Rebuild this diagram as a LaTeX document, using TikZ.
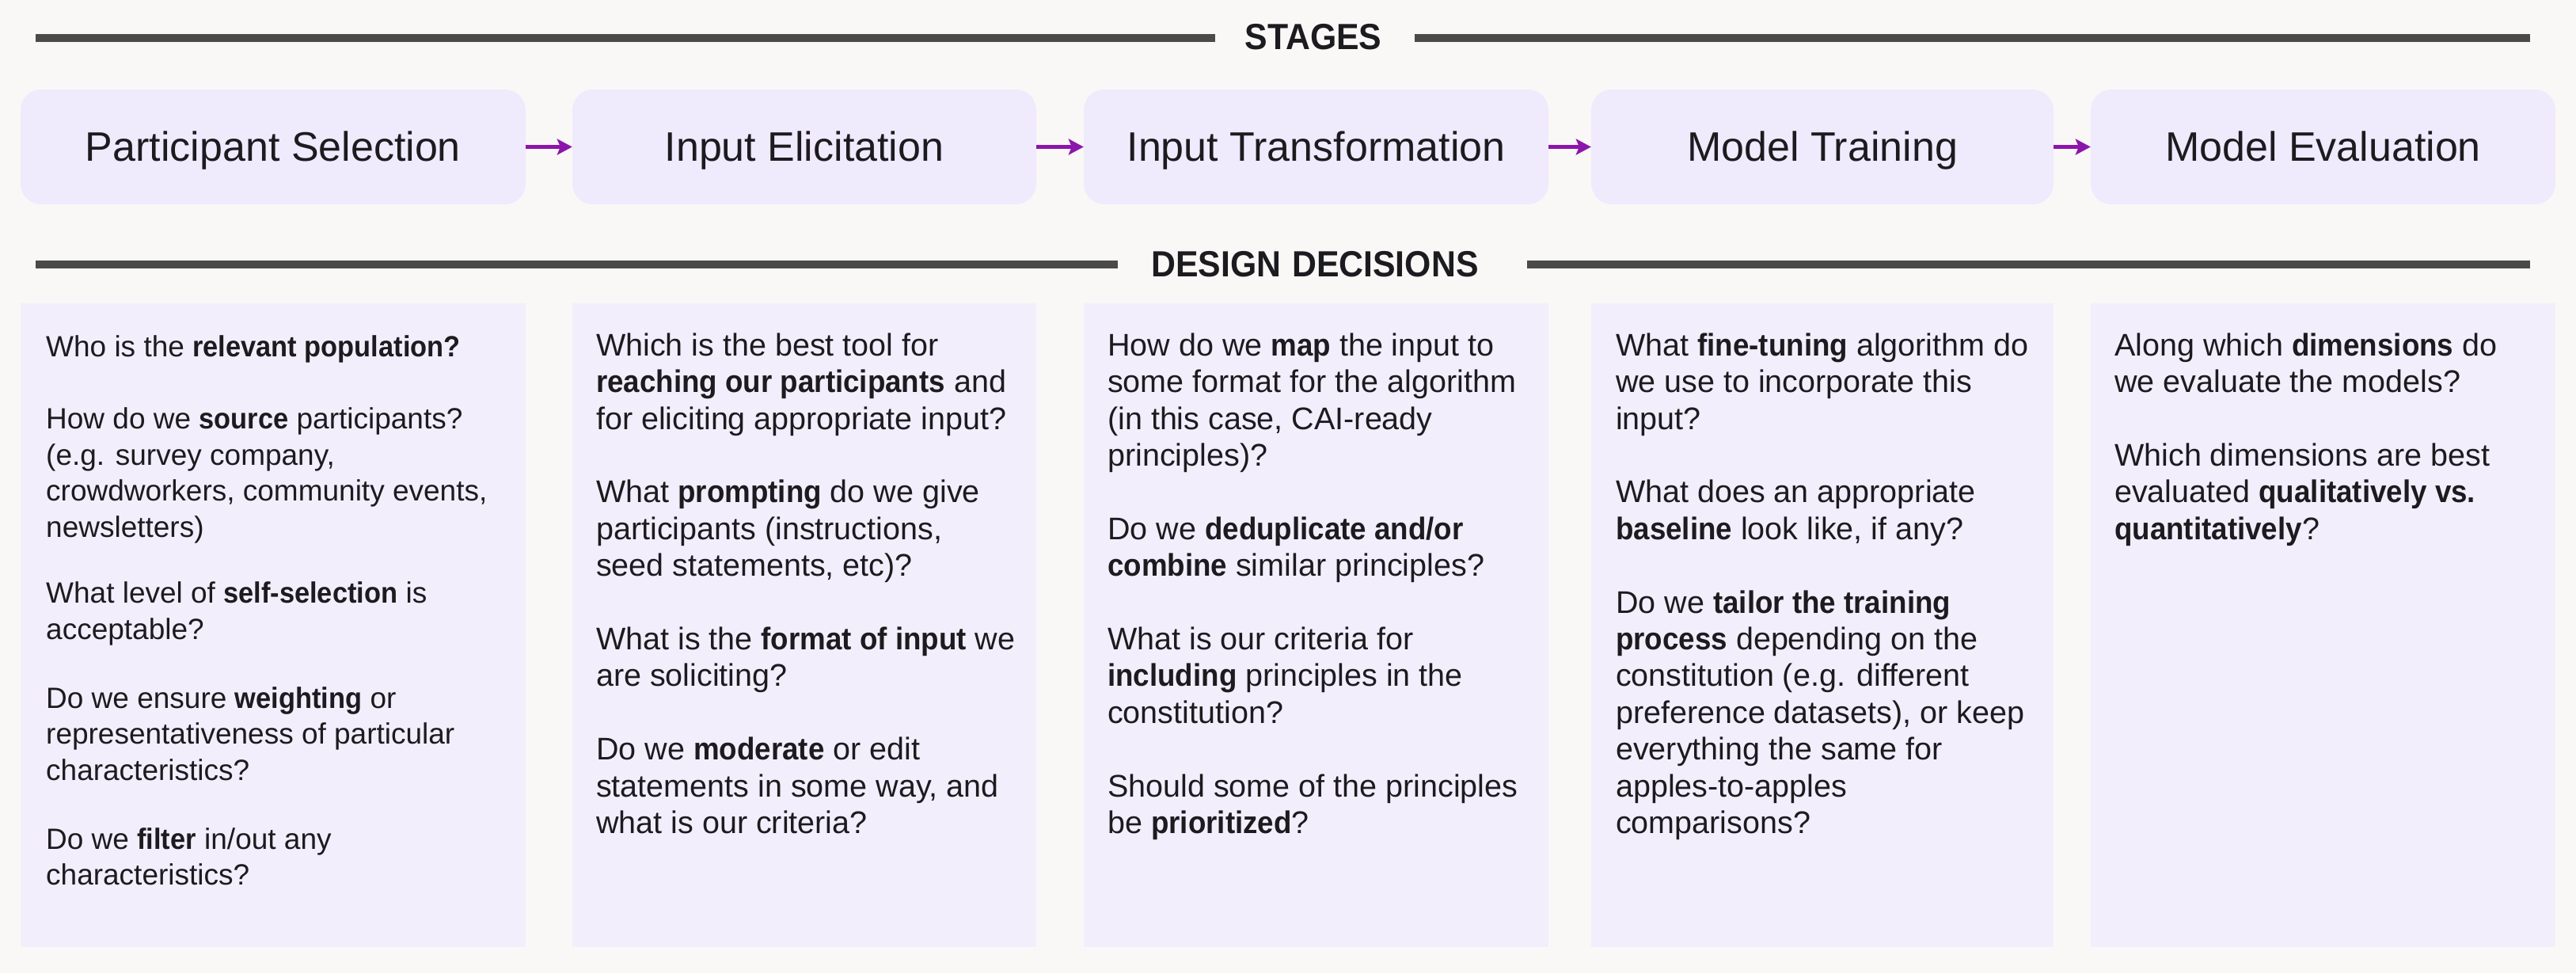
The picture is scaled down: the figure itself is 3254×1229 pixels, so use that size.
\documentclass[tikz,border=0pt]{standalone}
\usepackage{fontspec}
\setmainfont{Liberation Sans}[BoldFeatures={FakeStretch=0.93}]
\usetikzlibrary{arrows.meta}
\definecolor{bg}{HTML}{F9F8F7}
\definecolor{stagefill}{HTML}{F0EAFD}
\definecolor{decfill}{HTML}{F3EEFB}
\definecolor{ink}{HTML}{1C1B1F}
\definecolor{rulecol}{HTML}{4A4A4A}
\definecolor{arrowcol}{HTML}{8C16AC}
\newcommand{\fl}{\rule{0pt}{32pt}}
\begin{document}
\begin{tikzpicture}[x=1pt,y=-1pt,
  stagebox/.style={fill=stagefill, rounded corners=26pt, minimum height=145pt, inner sep=0pt,
    text height=36.5pt, text depth=0pt, font=\fontsize{52pt}{60pt}\selectfont, text=ink},
  decbox/.style={fill=decfill, minimum height=813pt, inner sep=0pt, anchor=north west},
  dectext/.style={anchor=north west, align=left, inner sep=0pt,
    font=\fontsize{39.5pt}{46.4pt}\selectfont, text=ink},
  dectextA/.style={dectext, font=\fontsize{37pt}{45.5pt}\selectfont},
  sechead/.style={font=\bfseries\fontsize{46pt}{50pt}\selectfont, text=ink, inner sep=0pt},
  hrule/.style={line width=10pt, draw=rulecol},
  arr/.style={-{Stealth[length=19pt,width=20pt,inset=4pt]}, line width=5pt, draw=arrowcol}]
\fill[bg] (0,0) rectangle (3254,1229);

% headings and rules
\node[sechead] (stages) at (1659,46.5) {STAGES};
\coordinate (tl) at (45,48);
\coordinate (tr) at (3196,48);
\draw[hrule] (tl) -- ([xshift=-37pt]tl -| stages.west);
\draw[hrule] ([xshift=41pt]tr -| stages.east) -- (tr);

\node[sechead] (design) at (1661,333.5) {DESIGN\hspace{0.3em}DECISIONS};
\coordinate (dl) at (45,334);
\coordinate (dr) at (3196,334);
\draw[hrule] (dl) -- ([xshift=-42pt]dl -| design.west);
\draw[hrule] ([xshift=61pt]dr -| design.east) -- (dr);

% stage boxes
\node[stagebox, minimum width=638pt] (s1) at (345,185.5) {Participant Selection};
\node[stagebox, minimum width=586pt] (s2) at (1016,185.5) {Input Elicitation};
\node[stagebox, minimum width=587pt] (s3) at (1662.5,185.5) {Input Transformation};
\node[stagebox, minimum width=584pt] (s4) at (2302,185.5) {Model Training};
\node[stagebox, minimum width=587pt] (s5) at (2934.5,185.5) {Model Evaluation};

\draw[arr] (s1) -- (s2);
\draw[arr] (s2) -- (s3);
\draw[arr] (s3) -- (s4);
\draw[arr] (s4) -- (s5);

% decision boxes
\node[decbox, minimum width=638pt] (d1) at (26,383) {};
\node[decbox, minimum width=586pt] (d2) at (723,383) {};
\node[decbox, minimum width=587pt] (d3) at (1369,383) {};
\node[decbox, minimum width=584pt] (d4) at (2010,383) {};
\node[decbox, minimum width=587pt] (d5) at (2641,383) {};

\node[dectextA] (t1) at (58,418) {\fl Who is the \textbf{relevant population?}\\[46pt]
How do we \textbf{source} participants?\\
(e.g. survey company,\\
crowdworkers, community events,\\
newsletters)\\[38pt]
What level of \textbf{self-selection} is\\
acceptable?\\[41.5pt]
Do we ensure \textbf{weighting} or\\
representativeness of particular\\
characteristics?\\[41.5pt]
Do we \textbf{filter} in/out any\\
characteristics?};

\node[dectext] (t2) at (753,417) {\fl Which is the best tool for\\
\textbf{reaching our participants} and\\
for eliciting appropriate input?\\[46.4pt]
What \textbf{prompting} do we give\\
participants (instructions,\\
seed statements, etc)?\\[46.4pt]
What is the \textbf{format of input} we\\
are soliciting?\\[46.4pt]
Do we \textbf{moderate} or edit\\
statements in some way, and\\
what is our criteria?};

\node[dectext] (t3) at (1399,417) {\fl How do we \textbf{map} the input to\\
some format for the algorithm\\
(in this case, CAI-ready\\
principles)?\\[46.4pt]
Do we \textbf{deduplicate and/or}\\
\textbf{combine} similar principles?\\[46.4pt]
What is our criteria for\\
\textbf{including} principles in the\\
constitution?\\[46.4pt]
Should some of the principles\\
be \textbf{prioritized}?};

\node[dectext] (t4) at (2041,417) {\fl What \textbf{fine-tuning} algorithm do\\
we use to incorporate this\\
input?\\[46.4pt]
What does an appropriate\\
\textbf{baseline} look like, if any?\\[46.4pt]
Do we \textbf{tailor the training}\\
\textbf{process} depending on the\\
constitution (e.g. different\\
preference datasets), or keep\\
everything the same for\\
apples-to-apples\\
comparisons?};

\node[dectext] (t5) at (2671,417) {\fl Along which \textbf{dimensions} do\\
we evaluate the models?\\[46.4pt]
Which dimensions are best\\
evaluated \textbf{qualitatively vs.}\\
\textbf{quantitatively}?};
\end{tikzpicture}
\end{document}
